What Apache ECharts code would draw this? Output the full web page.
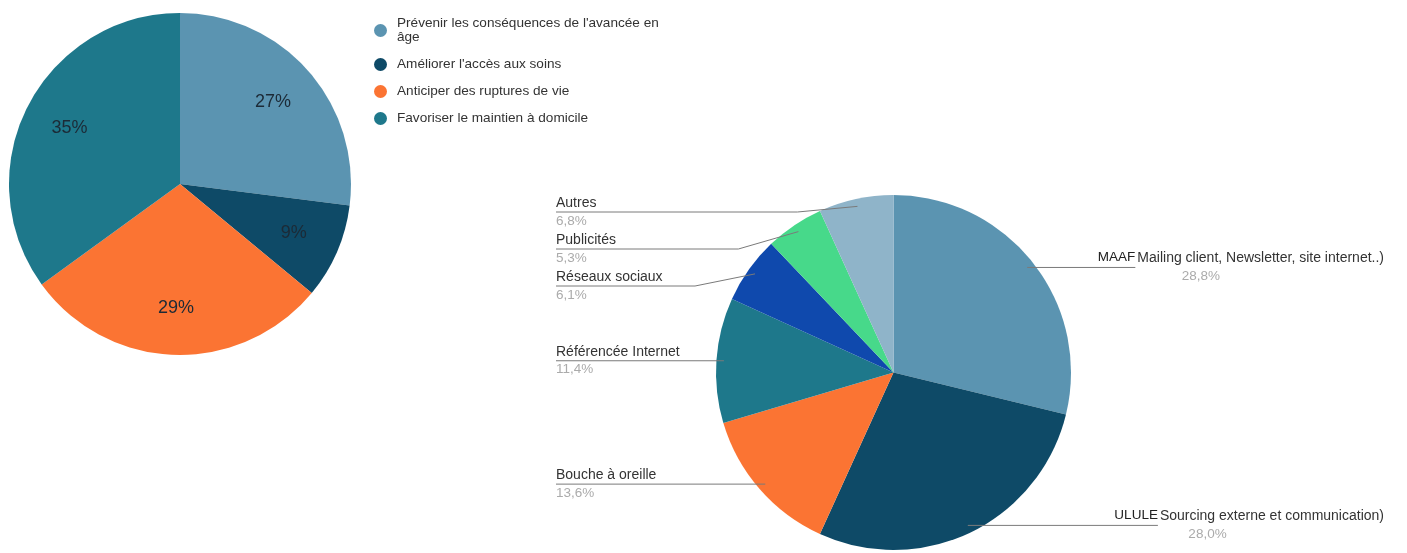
<!DOCTYPE html>
<html>
<head>
<meta charset="utf-8">
<script src="https://cdn.jsdelivr.net/npm/echarts@6/dist/echarts.min.js"></script>
<style>
  html, body { margin: 0; padding: 0; background: #ffffff; }
  #chart { width: 1407px; height: 553px; }
</style>
</head>
<body>
<div id="chart"></div>
<script>
// ---- Data ----
const leftCategories = [
  "Prévenir les conséquences de l'avancée en âge",
  "Améliorer l'accès aux soins",
  "Anticiper des ruptures de vie",
  "Favoriser le maintien à domicile"
];
const leftValues = [27, 9, 29, 35];

const rightCategories = [
  "MAAF Mailing client, Newsletter, site internet..)",
  "ULULE Sourcing externe et communication)",
  "Bouche à oreille",
  "Référencée Internet",
  "Réseaux sociaux",
  "Publicités",
  "Autres"
];
const rightValues = [28.8, 28.0, 13.6, 11.4, 6.1, 5.3, 6.8];

// ---- Styles ----
const FONT = "'Liberation Sans', Arial, sans-serif";
const leftColors = ['#5b94b1', '#0e4a67', '#fb7433', '#1e788b'];
const rightColors = ['#5b94b1', '#0e4a67', '#fb7433', '#1e788b', '#0f49ad', '#47d98a', '#8fb4c9'];
const rightPctIndent = [84, 74];
const rightHeadGap = [2, 2];

const LEFT_C = [180, 184], LEFT_R = 171;
const RIGHT_VIEW_LEFT = 533;
const RIGHT_C = [893.5, 372.5], RIGHT_R = 177.5;
const LINE_START_R = 170;     // leader lines start slightly inside the slice
const LABEL_SPACING = 37;     // minimum vertical spacing of stacked labels
const LABEL_TOP_PAD = 17;

const measureCtx = document.createElement('canvas').getContext('2d');
function textWidth(t, size) {
  measureCtx.font = size + 'px ' + FONT;
  return measureCtx.measureText(t).width;
}

// Mid angle / side / leader y for each right slice label
const rightTotal = rightValues.reduce((a, b) => a + b, 0);
const rightMid = [];
(function () {
  let cum = 0;
  rightValues.forEach(v => { rightMid.push((cum + v / 2) / rightTotal * 2 * Math.PI); cum += v; });
})();
const rightIsRightSide = rightMid.map(a => a < Math.PI);
const rightLineY = rightMid.map(a => RIGHT_C[1] - LINE_START_R * Math.cos(a));
(function () {
  [true, false].forEach(side => {
    const idx = rightMid.map((a, i) => i).filter(i => rightIsRightSide[i] === side)
      .sort((a, b) => rightLineY[a] - rightLineY[b]);
    let prev = -Infinity;
    idx.forEach(i => {
      let y = Math.max(rightLineY[i], prev + LABEL_SPACING, RIGHT_C[1] - RIGHT_R + LABEL_TOP_PAD);
      rightLineY[i] = y; prev = y;
    });
  });
})();

const rich = {
  n: { fontSize: 14, color: '#333', fontFamily: FONT, lineHeight: 18 },
  g: { fontSize: 13.5, color: '#ababab', fontFamily: FONT, lineHeight: 18 }
};
rightPctIndent.forEach((ind, i) => {
  rich['p' + i] = { fontSize: 13.5, color: '#ababab', fontFamily: FONT, lineHeight: 18, align: 'left', padding: [0, 0, 0, ind] };
  rich['h' + i] = { fontSize: 13.5, color: '#222', fontFamily: FONT, lineHeight: 18, padding: [0, rightHeadGap[i], 3, 0] };
});

const rightData = (withColor) => rightCategories.map((n, i) => ({
  name: n, value: rightValues[i],
  itemStyle: { color: withColor ? rightColors[i] : 'rgba(0,0,0,0)' }
}));

const chart = echarts.init(document.getElementById('chart'), null, { renderer: 'canvas' });

const option = {
  backgroundColor: '#ffffff',
  animation: false,
  legend: {
    orient: 'vertical',
    left: 369,
    top: 11.5,
    itemGap: 13,
    icon: 'circle',
    itemWidth: 13,
    itemHeight: 13,
    data: leftCategories,
    textStyle: { fontSize: 13.6, color: '#333', fontFamily: FONT, lineHeight: 14, padding: [0, 0, 0, 5] },
    formatter: function (name) {
      if (name.length > 42) {
        const k = name.lastIndexOf(' ');
        return name.slice(0, k) + '\n' + name.slice(k + 1);
      }
      return name;
    }
  },
  series: [
    {
      type: 'pie',
      left: 0, top: 0, width: 1407, height: 553,
      center: LEFT_C,
      radius: LEFT_R,
      startAngle: 90,
      clockwise: true,
      label: {
        show: true,
        position: 'inside',
        formatter: p => Math.round(p.percent) + '%',
        fontSize: 18,
        color: '#1c2a36',
        fontFamily: FONT
      },
      labelLine: { show: false },
      labelLayout: function (params) {
        const r = params.labelRect;
        const cx = r.x + r.width / 2, cy = r.y + r.height / 2;
        return { dx: (cx - LEFT_C[0]) * 0.4, dy: (cy - LEFT_C[1]) * 0.4 };
      },
      emphasis: { disabled: true },
      data: leftCategories.map((n, i) => ({ name: n, value: leftValues[i], itemStyle: { color: leftColors[i] } }))
    },
    {
      // visible slices of the right pie
      type: 'pie',
      z: 2,
      left: RIGHT_VIEW_LEFT, top: 0, right: 0, bottom: 0,
      center: [RIGHT_C[0] - RIGHT_VIEW_LEFT, RIGHT_C[1]],
      radius: RIGHT_R,
      startAngle: 90,
      clockwise: true,
      label: { show: false },
      labelLine: { show: false },
      emphasis: { disabled: true },
      data: rightData(true)
    },
    {
      // same pie, transparent, carrying the labels so leader lines draw over the slices
      type: 'pie',
      z: 3,
      silent: true,
      left: RIGHT_VIEW_LEFT, top: 0, right: 0, bottom: 0,
      center: [RIGHT_C[0] - RIGHT_VIEW_LEFT, RIGHT_C[1]],
      radius: RIGHT_R,
      startAngle: 90,
      clockwise: true,
      avoidLabelOverlap: true,
      label: {
        show: true,
        position: 'outer',
        alignTo: 'edge',
        edgeDistance: 23,
        minMargin: 2,
        lineHeight: 18,
        fontFamily: FONT,
        formatter: function (p) {
          const pct = p.percent.toFixed(1).replace('.', ',') + '%';
          const i = p.dataIndex;
          if (rightIsRightSide[i]) {
            const k = p.name.indexOf(' ');
            return '{h' + i + '|' + p.name.slice(0, k) + '}{n|' + p.name.slice(k + 1) + '}\n{p' + i + '|' + pct + '}';
          }
          return '{n|' + p.name + '}\n{g|' + pct + '}';
        },
        rich: rich
      },
      labelLine: {
        show: true,
        length: 6,
        length2: 0,
        lineStyle: { color: '#7a7a7a', width: 1 }
      },
      labelLayout: function (params) {
        const pts = params.labelLinePoints;
        if (!pts) return {};
        const i = params.dataIndex;
        const y = rightLineY[i];
        const k = LINE_START_R / RIGHT_R;
        const p0 = [RIGHT_C[0] + (pts[0][0] - RIGHT_C[0]) * k, RIGHT_C[1] + (pts[0][1] - RIGHT_C[1]) * k];
        let endX, bendX;
        if (rightIsRightSide[i]) {
          const name = rightCategories[i];
          const first = name.slice(0, name.indexOf(' '));
          endX = params.labelRect.x + textWidth(first, 13.5);
          bendX = Math.abs(y - p0[1]) > 2 ? p0[0] + 60 : p0[0];
        } else {
          endX = params.labelRect.x;
          bendX = Math.abs(y - p0[1]) > 2 ? p0[0] - 60 : p0[0];
        }
        return { y: y, labelLinePoints: [p0, [bendX, y], [endX, y]] };
      },
      emphasis: { disabled: true },
      data: rightData(false)
    }
  ]
};

chart.setOption(option);
</script>
</body>
</html>
